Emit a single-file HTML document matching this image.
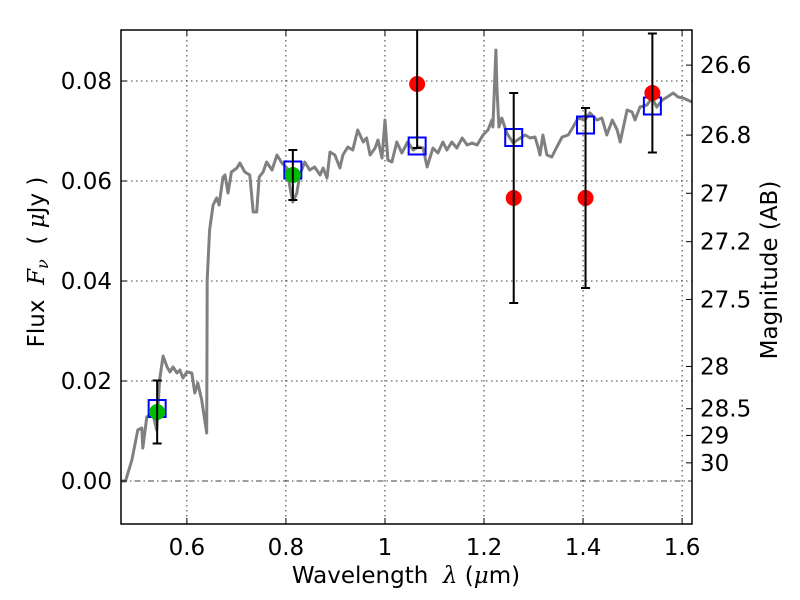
<!DOCTYPE html>
<html><head><meta charset="utf-8"><style>
html,body{margin:0;padding:0;background:#fff;}
svg{display:block;font-family:"DejaVu Sans","Liberation Sans",sans-serif;}
</style></head><body>
<svg id="chart" width="800" height="600" viewBox="0 0 800 600">
<rect width="800" height="600" fill="#fff"/>
<g id="grid"></g>
<g id="model"></g>
<g id="marks"></g>
<g id="axes"></g>
<text x="406" y="583" font-size="23" text-anchor="middle" xml:space="preserve">Wavelength  <tspan font-style="italic" font-family="DejaVu Serif,serif">λ</tspan> (<tspan font-style="italic" font-family="DejaVu Serif,serif">μ</tspan>m)</text>
<text transform="translate(44,262) rotate(-90)" font-size="23" text-anchor="middle" xml:space="preserve">Flux  <tspan font-style="italic" font-family="DejaVu Serif,serif">F<tspan font-size="16" dy="4">ν</tspan></tspan><tspan dy="-4">  ( </tspan><tspan font-style="italic" font-family="DejaVu Serif,serif">μ</tspan>Jy )</text>
<text transform="translate(777,270) rotate(-90)" font-size="23" text-anchor="middle">Magnitude (AB)</text>
</svg>
<script>
const specWave = [0.467,0.476,0.489,0.501,0.509,0.511,0.519,0.531,0.539,0.545,0.552,0.560,0.566,0.572,0.580,0.586,0.592,0.600,0.610,0.616,0.622,0.630,0.640,0.641,0.646,0.653,0.660,0.665,0.673,0.677,0.683,0.690,0.701,0.707,0.717,0.727,0.734,0.741,0.746,0.754,0.761,0.772,0.782,0.792,0.802,0.808,0.814,0.822,0.828,0.838,0.848,0.858,0.869,0.875,0.883,0.889,0.899,0.909,0.915,0.925,0.935,0.945,0.956,0.963,0.970,0.980,0.986,0.994,1.000,1.006,1.014,1.024,1.034,1.046,1.057,1.067,1.077,1.085,1.097,1.107,1.117,1.125,1.135,1.145,1.156,1.166,1.176,1.186,1.198,1.208,1.216,1.218,1.224,1.226,1.230,1.236,1.246,1.259,1.273,1.283,1.293,1.303,1.309,1.313,1.319,1.327,1.337,1.347,1.358,1.370,1.380,1.390,1.404,1.414,1.428,1.438,1.448,1.459,1.469,1.475,1.489,1.499,1.505,1.515,1.529,1.539,1.549,1.560,1.570,1.582,1.592,1.602,1.620];
const specFlux = [0.0,0.0,0.0042,0.0102,0.0106,0.0066,0.0128,0.0136,0.0102,0.0202,0.025,0.0228,0.0218,0.0228,0.0216,0.0222,0.0206,0.0218,0.0216,0.0176,0.0196,0.0162,0.0096,0.0402,0.0502,0.0552,0.0566,0.0552,0.0608,0.0612,0.0576,0.0618,0.0626,0.0636,0.0618,0.0612,0.0538,0.0538,0.0608,0.0618,0.0638,0.0622,0.0652,0.0636,0.0626,0.0588,0.0558,0.0576,0.0612,0.0638,0.0622,0.0628,0.0612,0.0626,0.0606,0.0658,0.0652,0.0626,0.0652,0.0668,0.0662,0.0702,0.0678,0.0686,0.0652,0.0666,0.0682,0.0646,0.0722,0.0642,0.0638,0.0678,0.0656,0.0678,0.0662,0.0668,0.0666,0.0628,0.0666,0.0656,0.0678,0.0662,0.0678,0.0666,0.0686,0.0672,0.0676,0.0672,0.0692,0.0702,0.0722,0.0708,0.0862,0.0788,0.0708,0.0726,0.0696,0.0676,0.0686,0.0692,0.0686,0.0688,0.0668,0.0652,0.0692,0.0652,0.0648,0.0668,0.0688,0.0692,0.0708,0.0726,0.0722,0.0736,0.0722,0.0726,0.0692,0.0722,0.0702,0.0678,0.0742,0.0738,0.0722,0.0748,0.0752,0.0766,0.0748,0.0762,0.0768,0.0776,0.0768,0.0766,0.0758];
const modelWave = [0.54,0.814,1.065,1.26,1.405,1.54];
const modelFlux = [0.0145,0.0622,0.0670,0.0687,0.0712,0.0750];
const greenWave = [0.54,0.814];
const greenFlux = [0.0138,0.0612];
const greenErr = [0.0063,0.0050];
const redWave = [1.065,1.26,1.405,1.54];
const redFlux = [0.0794,0.0566,0.0566,0.0776];
const redErr = [0.0128,0.021,0.018,0.0119];
const xTicks = [0.6,0.8,1.0,1.2,1.4,1.6];
const xTickLabels = ["0.6","0.8","1","1.2","1.4","1.6"];
const yTicks = [0.0,0.02,0.04,0.06,0.08];
const yTickLabels = ["0.00","0.02","0.04","0.06","0.08"];
const magTicks = [26.6,26.8,27,27.2,27.5,28,28.5,29,30];
const magTickLabels = ["26.6","26.8","27","27.2","27.5","28","28.5","29","30"];

const L=121,R=692,T=30,B=524;
const X0=0.467,X1=1.620,Y0=-0.0086,Y1=0.0902;
const xs=v=>L+(v-X0)/(X1-X0)*(R-L);
const ys=v=>B-(v-Y0)/(Y1-Y0)*(B-T);
const NS="http://www.w3.org/2000/svg";
function mk(tag,attrs,parent){const e=document.createElementNS(NS,tag);for(const k in attrs)e.setAttribute(k,attrs[k]);parent.appendChild(e);return e;}
const grid=document.getElementById('grid'),model=document.getElementById('model'),marks=document.getElementById('marks'),axes=document.getElementById('axes');

xTicks.forEach((t,i)=>{
  const x=xs(t);
  const g=mk('line',{x1:x,x2:x,y1:T,y2:B,stroke:'#000','stroke-width':0.8,'stroke-dasharray':'1.5,3.5'},grid);
  
  
  mk('line',{x1:x,x2:x,y1:B,y2:B-6,stroke:'#000','stroke-width':1},axes);
  mk('line',{x1:x,x2:x,y1:T,y2:T+6,stroke:'#000','stroke-width':1},axes);
  const tx=mk('text',{x:x,y:B+31,'font-size':23,'text-anchor':'middle'},axes);
  tx.textContent=xTickLabels[i];
  
  
});
yTicks.forEach((t,i)=>{
  const y=ys(t);
  if(t!==0){
    const g=mk('line',{x1:L,x2:R,y1:y,y2:y,stroke:'#000','stroke-width':0.8,'stroke-dasharray':'1.5,3.5'},grid);
    
    
  }
  mk('line',{x1:L,x2:L+6,y1:y,y2:y,stroke:'#000','stroke-width':1},axes);
  const tx=mk('text',{x:L-9,y:y+8,'font-size':23,'text-anchor':'end'},axes);
  tx.textContent=yTickLabels[i];
  
  
});
const zl=mk('line',{x1:L,x2:R,y1:ys(0),y2:ys(0),stroke:'#000','stroke-width':0.8,'stroke-dasharray':'6,3,1.5,3'},grid);


magTicks.forEach((m,i)=>{
  const y=ys(Math.pow(10,(23.9-m)/2.5));
  mk('line',{x1:R,x2:R-6,y1:y,y2:y,stroke:'#000','stroke-width':1},axes);
  const tx=mk('text',{x:R+8,y:y+8,'font-size':23,'text-anchor':'start'},axes);
  tx.textContent=magTickLabels[i];
  
  
});
const frame=mk('rect',{x:L,y:T,width:R-L,height:B-T,fill:'none',stroke:'#000','stroke-width':1.5},axes);



const pts=specWave.map((w,i)=>xs(w).toFixed(1)+','+ys(specFlux[i]).toFixed(1)).join(' ');
const pl=mk('polyline',{points:pts,fill:'none',stroke:'#808080','stroke-width':3,'stroke-linejoin':'round'},model);



modelWave.forEach((w,i)=>{
  const s=mk('rect',{x:xs(w)-8.5,y:ys(modelFlux[i])-8.5,width:17,height:17,fill:'none',stroke:'#0000ff','stroke-width':2},marks);
  
  
});
function errbar(w,f,e,color,name){
  const x=xs(w),y=ys(f),yt=Math.max(ys(f+e),T),yb=Math.min(ys(f-e),B);
  const c=mk('circle',{cx:x,cy:y,r:8,fill:color},marks);
  
  
  mk('line',{x1:x,x2:x,y1:yt,y2:yb,stroke:'#000','stroke-width':2},marks);
  if(ys(f+e)>=T) mk('line',{x1:x-4.5,x2:x+4.5,y1:yt,y2:yt,stroke:'#000','stroke-width':2},marks);
  mk('line',{x1:x-4.5,x2:x+4.5,y1:yb,y2:yb,stroke:'#000','stroke-width':2},marks);
}
greenWave.forEach((w,i)=>errbar(w,greenFlux[i],greenErr[i],'#00bb00','observed-point-green'));
redWave.forEach((w,i)=>errbar(w,redFlux[i],redErr[i],'#ff0000','observed-point-red'));
</script>
</body></html>
